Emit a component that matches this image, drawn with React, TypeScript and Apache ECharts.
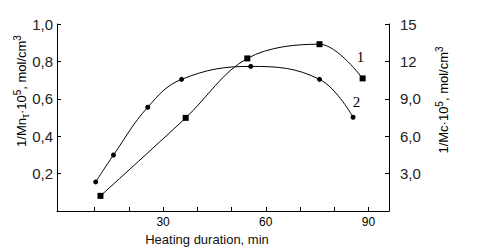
import React, { useEffect, useRef } from "react";
import * as echarts from "echarts";

// Curve 1 (squares) — 1/Mn·10^5 (left axis)
const curve1X = [11.7, 36.6, 54.6, 75.7, 88.3];
const curve1Y = [0.081, 0.498, 0.816, 0.892, 0.709];
// Curve 2 (circles) — 1/Mc·10^5 (right axis)
const curve2X = [10.3, 15.5, 25.5, 35.4, 55.6, 75.7, 85.5];
const curve2Y = [2.33, 4.49, 8.32, 10.56, 11.6, 10.56, 7.52];

const xTickValues = [10, 20, 30, 40, 50, 60, 70, 80, 90];
const xLabelValues = [30, 60, 90];
const curveNames = ["1", "2"];

const sans = "'Liberation Sans', Arial, sans-serif";
const narrow = "'Liberation Sans Narrow', 'Arial Narrow', 'Liberation Sans', sans-serif";

const leftFmt = (v: number) => v.toFixed(1).replace(".", ",");
const rightFmt = (v: number) => (v >= 10 ? String(Math.round(v)) : v.toFixed(1).replace(".", ","));

export default function App() {
  const ref = useRef<HTMLDivElement>(null);
  useEffect(() => {
    if (!ref.current) return;
    const chart = echarts.init(ref.current, undefined, { renderer: "svg" });
    const axisLine = { show: true, onZero: false, lineStyle: { color: "#000", width: 1 } };
    const axisTick = { show: true, inside: true, length: 4, lineStyle: { color: "#000", width: 1 } };
    const nameRich = {
      m: { fontFamily: narrow, fontSize: 13, color: "#222", lineHeight: 18 },
      sup: { fontFamily: narrow, fontSize: 10, color: "#222", verticalAlign: "top", lineHeight: 18, padding: [0, 0, 6, 0] },
      sub: { fontFamily: narrow, fontSize: 10, color: "#222", verticalAlign: "bottom", lineHeight: 18, padding: [6, 0, 0, 0] },
    };
    chart.setOption({
      animation: false,
      backgroundColor: "#fff",
      grid: { left: 57, right: 91, top: 24, bottom: 41, containLabel: false },
      xAxis: {
        type: "value",
        min: -1,
        max: 96,
        axisLine,
        axisTick: { ...axisTick, customValues: xTickValues },
        axisLabel: { customValues: xLabelValues, color: "#000", fontFamily: sans, fontSize: 12, margin: 5 },
        splitLine: { show: false },
      },
      yAxis: [
        {
          type: "value",
          min: 0,
          max: 1,
          interval: 0.2,
          position: "left",
          axisLine,
          axisTick,
          axisLabel: { formatter: leftFmt, showMinLabel: false, color: "#222", fontFamily: sans, fontSize: 15, margin: 4 },
          splitLine: { show: false },
        },
        {
          type: "value",
          min: 0,
          max: 15,
          interval: 3,
          position: "right",
          axisLine,
          axisTick,
          axisLabel: { formatter: rightFmt, showMinLabel: false, color: "#222", fontFamily: sans, fontSize: 15, margin: 11 },
          splitLine: { show: false },
        },
      ],
      series: [
        {
          name: curveNames[0],
          type: "line",
          yAxisIndex: 0,
          smooth: 0.35,
          data: curve1X.map((x, i) => [x, curve1Y[i]]),
          symbol: "rect",
          symbolSize: 6,
          itemStyle: { color: "#000" },
          lineStyle: { color: "#000", width: 1 },
        },
        {
          name: curveNames[1],
          type: "line",
          yAxisIndex: 1,
          smooth: 0.4,
          data: curve2X.map((x, i) => [x, curve2Y[i]]),
          symbol: "circle",
          symbolSize: 5,
          itemStyle: { color: "#000" },
          lineStyle: { color: "#000", width: 1 },
        },
      ],
      graphic: [
        {
          type: "text",
          x: 207,
          y: 239,
          style: { text: "Heating duration, min", fontFamily: sans, fontSize: 13, fill: "#111", align: "center", verticalAlign: "middle" },
        },
        {
          type: "text",
          x: 21,
          y: 91,
          rotation: Math.PI / 2,
          style: {
            text: "{m|1/Mn}{sub|τ}{m|·10}{sup|5}{m|, mol/cm}{sup|3}",
            rich: nameRich,
            align: "center",
            verticalAlign: "middle",
          },
        },
        {
          type: "text",
          x: 443,
          y: 100,
          rotation: Math.PI / 2,
          style: {
            text: "{m|1/Mc·10}{sup|5}{m|, mol/cm}{sup|3}",
            rich: nameRich,
            align: "center",
            verticalAlign: "middle",
          },
        },
        {
          type: "text",
          x: 360.5,
          y: 57,
          style: { text: curveNames[0], fontFamily: "'Liberation Serif', serif", fontSize: 15, fill: "#000", align: "center", verticalAlign: "middle" },
        },
        {
          type: "text",
          x: 356.5,
          y: 102,
          style: { text: curveNames[1], fontFamily: "'Liberation Serif', serif", fontSize: 15, fill: "#000", align: "center", verticalAlign: "middle" },
        },
      ],
    });
    return () => chart.dispose();
  }, []);
  return <div ref={ref} style={{ position: "fixed", left: 0, top: 0, width: 480, height: 252 }} />;
}
